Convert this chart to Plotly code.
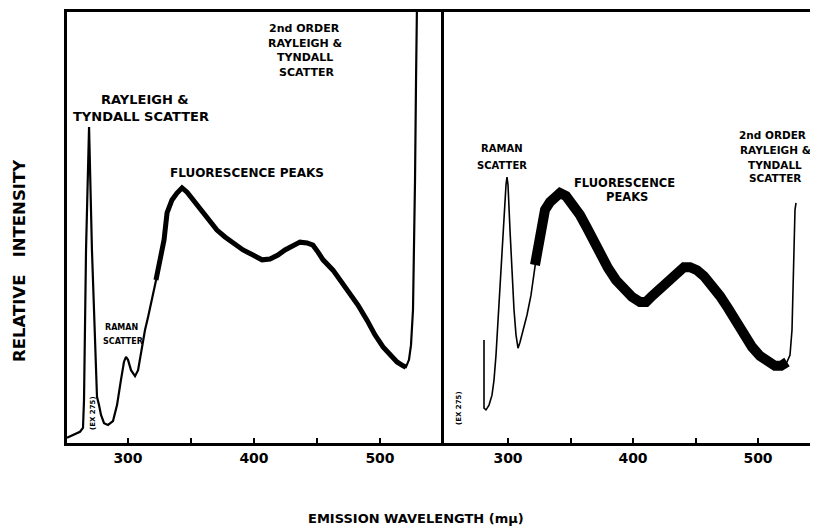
import plotly.graph_objects as go

# ---------------- data ----------------
# Left panel: excitation 275 mμ
left_wl = [251.6, 261.9, 264.3, 265.1, 266.7, 269.1, 271.4, 273.8, 275.4, 277.0, 278.6, 281.0,
           284.1, 288.1, 291.3, 294.4, 296.8, 298.4, 300.0, 302.4, 305.6, 308.0, 310.3, 313.5,
           315.9, 319.0, 322.2, 325.4, 328.6, 331.0, 334.9, 338.9, 342.9, 346.9, 351.6, 355.6,
           359.5, 365.1, 370.6, 377.0, 383.3, 391.3, 399.2, 406.4, 412.7, 419.0, 424.6, 430.2,
           436.5, 442.1, 446.8, 450.8, 454.8, 462.7, 469.9, 476.2, 482.5, 489.7, 496.0, 502.4,
           507.9, 513.5, 518.3, 520.6, 523.0, 524.6, 526.2, 527.0, 527.8, 528.6, 529.4]
left_int = [1.2, 2.6, 3.5, 10.0, 44.8, 73.3, 44.8, 21.6, 10.7, 8.8, 6.5, 4.6,
            4.2, 5.1, 8.8, 14.6, 18.8, 20.0, 19.3, 16.9, 15.5, 16.9, 21.1, 26.2,
            29.2, 33.2, 37.8, 42.0, 47.1, 53.4, 56.4, 58.0, 59.2, 58.2, 56.4, 54.8,
            53.4, 51.3, 49.4, 47.8, 46.4, 44.8, 43.6, 42.5, 42.7, 43.6, 44.8, 45.7,
            46.6, 46.4, 45.9, 44.3, 42.5, 40.1, 37.1, 34.8, 32.0, 28.5, 25.1, 22.3,
            20.4, 18.8, 17.9, 17.6, 19.3, 22.7, 30.9, 42.5, 61.0, 84.2, 102.8]

# Right panel
right_wl = [280.8, 280.8, 282.4, 284.8, 287.2, 288.8, 290.4, 292.0, 293.6, 295.2, 296.8, 298.4,
            299.2, 300.0, 301.6, 303.2, 304.8, 306.4, 308.0, 309.6, 312.0, 315.2, 318.4, 321.6,
            324.0, 326.4, 329.6, 333.6, 337.6, 341.6, 346.4, 352.0, 357.6, 363.2, 368.8, 374.4,
            380.0, 386.4, 392.8, 399.2, 405.6, 410.4, 415.2, 421.6, 428.0, 434.4, 440.8, 445.6,
            451.2, 456.8, 463.2, 469.6, 476.0, 482.4, 488.8, 495.2, 501.6, 508.0, 513.6, 518.4,
            523.2, 525.6, 527.2, 528.0, 528.8, 529.6, 530.4]
right_int = [23.9, 8.1, 7.7, 8.8, 11.1, 14.6, 20.4, 28.5, 36.7, 44.8, 54.1, 59.9,
             61.7, 59.9, 49.4, 40.1, 30.9, 25.1, 22.0, 23.4, 26.2, 29.7, 34.3, 41.3,
             45.9, 49.9, 54.1, 55.9, 57.3, 58.0, 57.3, 55.2, 52.9, 49.9, 46.6, 43.2,
             40.6, 37.8, 35.5, 33.9, 32.7, 32.7, 34.1, 35.9, 37.8, 39.4, 40.8, 40.8,
             40.1, 38.7, 36.7, 34.1, 31.3, 28.1, 25.1, 22.3, 20.2, 18.8, 17.9, 17.9,
             18.8, 20.4, 26.2, 37.8, 47.1, 54.1, 55.7]

tick_vals = [300, 350, 400, 450, 500]
tick_text = ["300", "", "400", "", "500"]

# ---------------- layout geometry ----------------
# page body has an 8px margin: figure is drawn 8px right/down of the window corner
OFF = 8
W, H = 818 - OFF, 528 - OFF
ML, MR, MT, MB = 67 - OFF, 0, 12 - OFF, H - (443 - OFF)
PW, PH = W - ML - MR, H - MT - MB
split = (444 - 67) / PW

FONT = "DejaVu Sans"


def fluo_part(wl, iv, lo, hi):
    xs, ys = [], []
    for a, b in zip(wl, iv):
        if lo <= a <= hi:
            xs.append(a)
            ys.append(b)
    return xs, ys


fig = go.Figure()
fig.add_trace(go.Scatter(x=left_wl, y=left_int, mode="lines", xaxis="x", yaxis="y",
                         line=dict(color="black", width=2.2), showlegend=False))
lx, ly = fluo_part(left_wl, left_int, 322, 522)
fig.add_trace(go.Scatter(x=lx, y=ly, mode="lines", xaxis="x", yaxis="y",
                         line=dict(color="black", width=5), showlegend=False))
fig.add_trace(go.Scatter(x=right_wl, y=right_int, mode="lines", xaxis="x2", yaxis="y2",
                         line=dict(color="black", width=1.6), showlegend=False))
rx, ry = fluo_part(right_wl, right_int, 321, 524)
fig.add_trace(go.Scatter(x=rx, y=ry, mode="lines", xaxis="x2", yaxis="y2",
                         line=dict(color="black", width=10), showlegend=False))

axis_common = dict(showgrid=False, zeroline=False, linecolor="black", linewidth=2.5,
                   ticks="inside", ticklen=5, tickwidth=2, tickcolor="black",
                   tickvals=tick_vals, ticktext=tick_text,
                   tickfont=dict(family=FONT, size=14, color="black", weight="bold"))

right_end = 248.8 + (W + OFF - 444) / 1.25

fig.update_layout(
    width=W, height=H, margin=dict(l=ML, r=MR, t=MT, b=MB, pad=0),
    paper_bgcolor="white", plot_bgcolor="white",
    xaxis=dict(domain=[0, split], range=[251.6, 550.8], anchor="y", showline=True,
               mirror=True, **axis_common),
    xaxis2=dict(domain=[split, 1], range=[248.8, right_end], anchor="y2", showline=True,
                mirror=True, **axis_common),
    yaxis=dict(domain=[0, 1], range=[0, 100], anchor="x", showline=True, mirror=False,
               linecolor="black", linewidth=2.5, showticklabels=False, ticks="",
               showgrid=False, zeroline=False),
    yaxis2=dict(domain=[0, 1], range=[0, 100], anchor="x2", showline=True, mirror=False,
                linecolor="black", linewidth=2.5, showticklabels=False, ticks="",
                showgrid=False, zeroline=False),
)


def ann(text, px, py, size, angle=0):
    # px, py: position in window pixels
    fig.add_annotation(text=text, xref="paper", yref="paper",
                       x=(px - OFF - ML) / PW, y=(H - MB - (py - OFF)) / PH,
                       xanchor="center", yanchor="middle", showarrow=False,
                       textangle=angle,
                       font=dict(family=FONT, size=size, color="black", weight="bold"))


# left panel labels
ann("2nd ORDER", 304, 28, 11)
ann("RAYLEIGH &", 305, 43, 11)
ann("TYNDALL", 305, 57, 11)
ann("SCATTER", 306, 72, 11)
ann("RAYLEIGH &", 145, 99, 13)
ann("TYNDALL SCATTER", 141, 117, 13)
ann("FLUORESCENCE PEAKS", 247, 173, 12)
ann("RAMAN", 121, 327, 8)
ann("SCATTER", 123, 341, 8)
ann("(EX 275)", 93, 413, 7, -90)

# right panel labels
ann("RAMAN", 502, 148, 10)
ann("SCATTER", 502, 165, 10)
ann("FLUORESCENCE", 624, 183, 11.5)
ann("PEAKS", 627, 197, 11.5)
ann("2nd ORDER", 772, 135, 10.5)
ann("RAYLEIGH &", 775, 150, 10.5)
ann("TYNDALL", 775, 165, 10.5)
ann("SCATTER", 775, 178, 10.5)
ann("(EX 275)", 459, 408, 7, -90)

# axis titles
ann("RELATIVE\u00a0\u00a0\u00a0INTENSITY", 19, 261, 16.5, -90)
ann("EMISSION WAVELENGTH (mμ)", 416, 518, 13)

fig.write_html("out.html")
